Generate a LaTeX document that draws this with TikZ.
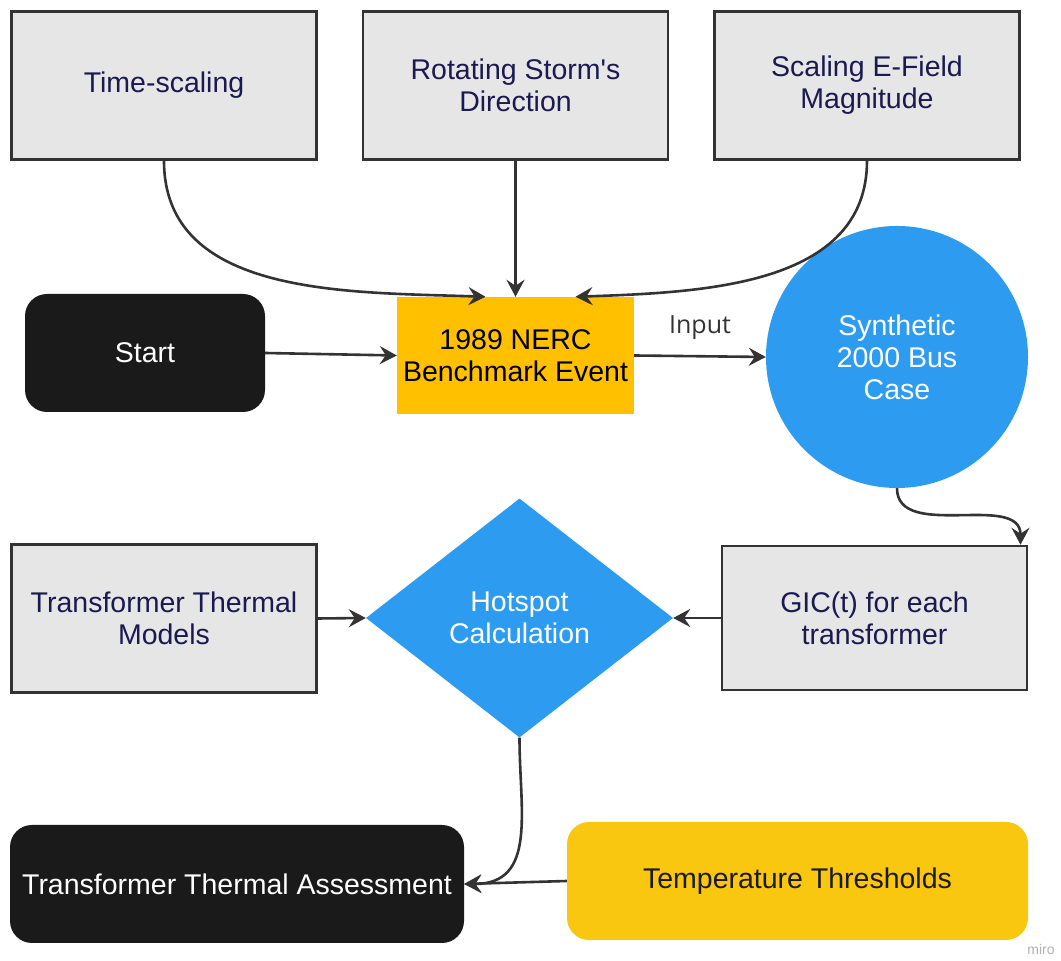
\documentclass[tikz,border=0pt]{standalone}
\usepackage{fontspec}
\setmainfont{Liberation Sans}
\newfontfamily\labelfont{Open Sans}
\usetikzlibrary{shapes.geometric,arrows.meta}
\definecolor{boxgrey}{RGB}{230,230,230}
\definecolor{edgegrey}{RGB}{51,51,51}
\definecolor{navytext}{RGB}{26,26,80}
\definecolor{nercyellow}{RGB}{255,192,0}
\definecolor{tempyellow}{RGB}{250,199,16}
\definecolor{mirblue}{RGB}{45,155,240}
\definecolor{nearblack}{RGB}{26,26,26}
\begin{document}
\begin{tikzpicture}[x=1pt,y=1pt,
	greybox/.style={draw=edgegrey, line width=2.5pt, fill=boxgrey, text=navytext, minimum width=305pt, minimum height=148pt, align=center, inner sep=0pt},
	darkbox/.style={fill=nearblack, text=white, rounded corners=22pt, minimum height=118pt, align=center},
	conn/.style={draw=edgegrey, line width=2.6pt, -{Stealth[length=17pt,width=18pt,inset=6pt]}},
	font=\fontsize{28.5}{32}\selectfont]
	\useasboundingbox (0,0) rectangle (1061,961);
	\node[greybox] (time) at (164,875.5) {Time-scaling};
	\node[greybox] (rot) at (515.5,875.5) {Rotating Storm\textquotesingle s\\Direction};
	\node[greybox] (scal) at (867,875.5) {Scaling E-Field\\Magnitude};
	\node[darkbox, minimum width=240pt] (start) at (145,608) {Start};
	\node[fill=nercyellow, minimum width=237pt, minimum height=117pt, align=center] (nerc) at (515.5,605.5) {1989 NERC\\Benchmark Event};
	\node[circle, fill=mirblue, text=white, minimum size=262pt, align=center] (bus) at (897,604) {Synthetic\\2000 Bus\\Case};
	\node[greybox, minimum height=144pt] (gic) at (874.5,343) {GIC(t) for each\\transformer};
	\node[diamond, fill=mirblue, text=white, minimum width=307pt, minimum height=239pt, aspect=1.28, inner sep=0pt, align=center] (hot) at (519.5,343) {Hotspot\\Calculation};
	\node[greybox] (ttm) at (164,342.5) {Transformer Thermal\\Models};
	\node[darkbox, minimum width=454pt] (assess) at (237,77) {Transformer Thermal Assessment};
	\node[darkbox, fill=tempyellow, text=nearblack, minimum width=461pt] (temp) at (797.5,80) {Temperature Thresholds};
	\node[text=gray!60, font=\fontsize{14}{16}\selectfont] (miro) at (1041,12) {miro};
	\draw[conn] (time.south) to[out=-90, in=178] ([xshift=-30pt]nerc.north);
	\draw[conn] (rot.south) -- (nerc.north);
	\draw[conn] (scal.south) to[out=-90, in=2] ([xshift=60pt]nerc.north);
	\draw[conn] (start.east) -- (nerc.west);
	\draw[conn] (nerc.east) -- node[above=12pt, text=edgegrey, font=\labelfont\fontsize{25}{30}\selectfont] (inlbl) {Input} (bus.west);
	\draw[conn] (bus.south) to[out=-90, in=90] ([xshift=146pt]gic.north);
	\draw[conn] (gic.west) -- (hot.east);
	\draw[conn] (ttm.east) -- (hot.west);
	\draw[conn] (hot.south) to[out=-90, in=0, looseness=1.2] (assess.east);
	\draw[conn] (temp.west) -- (assess.east);
\end{tikzpicture}
\end{document}
